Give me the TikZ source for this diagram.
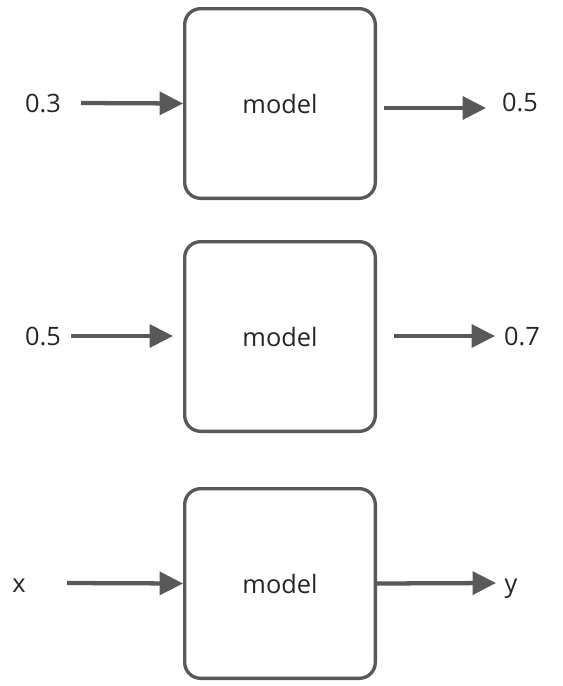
\documentclass[tikz,border=0pt]{standalone}
\usepackage{fontspec}
\setmainfont{Open Sans}
\usetikzlibrary{arrows.meta}
\definecolor{linegray}{HTML}{595959}
\definecolor{txt}{HTML}{262626}
\begin{document}
\begin{tikzpicture}[x=0.75pt,y=-0.75pt,
  box/.style={draw=linegray, line width=2.5pt, rounded corners=12pt,
    minimum width=143pt, minimum height=142.25pt, inner sep=0pt,
    text=txt, font=\fontsize{19}{23}\selectfont},
  lbl/.style={text=txt, font=\fontsize{19}{23}\selectfont, inner sep=0pt, anchor=base},
  arr/.style={draw=linegray, line width=3.2pt, -{Triangle[length=17.5pt,width=17pt]}}]
\useasboundingbox (0,0) rectangle (562,686);
\fill[white] (0,0) rectangle (562,686);
% boxes
\node[box] (m1) at (280,103.5) {model};
\node[box] (m2) at (280,336.5) {model};
\node[box] (m3) at (280,583.5) {model};
% labels
\node[lbl] (i1) at (43,112) {0.3};
\node[lbl] (o1) at (520,111) {0.5};
\node[lbl] (i2) at (43,345) {0.5};
\node[lbl] (o2) at (522,345) {0.7};
\node[lbl] (i3) at (19,592) {x};
\node[lbl] (o3) at (511,592) {y};
% arrow end points
\coordinate (a1s) at (81,103);
\coordinate (b1s) at (384,108);
\coordinate (b1e) at (486,108);
\coordinate (a2s) at (71,336);
\coordinate (a2e) at (173,336);
\coordinate (b2s) at (394,336);
\coordinate (b2e) at (495,336);
\coordinate (a3s) at (67,583);
\coordinate (b3e) at (496,583);
% arrows
\draw[arr] (a1s) -- (m1.west);
\draw[arr] (b1s) -- (b1e);
\draw[arr] (a2s) -- (a2e);
\draw[arr] (b2s) -- (b2e);
\draw[arr] (a3s) -- (m3.west);
\draw[arr] (m3.east) -- (b3e);
\end{tikzpicture}
\end{document}
